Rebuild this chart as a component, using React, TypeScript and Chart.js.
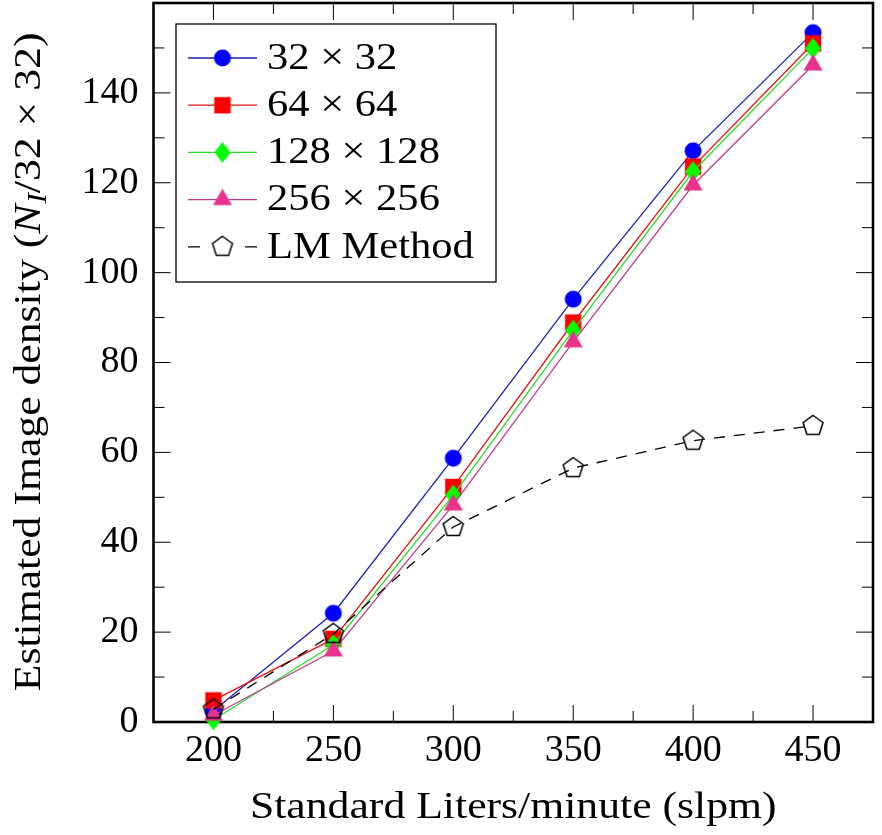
import React, { useEffect, useRef } from 'react';
import { Chart, registerables } from 'chart.js';

Chart.register(...registerables);

// ---------- data ----------
const xValues = [200, 250, 300, 350, 400, 450];
const s32 = [2.5, 24.2, 58.7, 94.1, 127.1, 153.4];
const s64 = [4.8, 18.5, 52.3, 88.9, 123.6, 151.0];
const s128 = [0.5, 17.2, 50.5, 87.2, 122.5, 149.9];
const s256 = [1.5, 15.8, 48.3, 84.6, 119.5, 146.2];
const sLM = [2.8, 19.6, 43.4, 56.5, 62.6, 65.9];
const seriesLabels = ['32 × 32', '64 × 64', '128 × 128', '256 × 256', 'LM Method'];

const xMajorTicks = [200, 250, 300, 350, 400, 450];
const xMinorTicks = [225, 275, 325, 375, 425];
const yMajorTicks = [0, 20, 40, 60, 80, 100, 120, 140];
const yMinorTicks = [10, 30, 50, 70, 90, 110, 130, 150];

const xTitle = 'Standard Liters/minute (slpm)';
const yTitleMain = 'Estimated Image density (';
const yTitleVar = 'N';
const yTitleSub = 'I';
const yTitleEnd = '/32 × 32)';

// ---------- styles ----------
const FONT = 'Liberation Serif';
const STRETCH = 1.15;
const lineColors = ['rgb(30,30,175)', 'rgb(220,20,20)', 'rgb(40,220,40)', 'rgb(195,60,145)', '#000000'];
const markerColors = ['#0000ff', '#ff0000', '#00ff00', 'rgb(232,50,140)', '#000000'];
const markerShapes = ['circle', 'square', 'diamond', 'triangle', 'pentagon'];

function makeMarker(shape: string, color: string): HTMLCanvasElement {
  const size = 30;
  const c = document.createElement('canvas');
  c.width = size;
  c.height = size;
  const ctx = c.getContext('2d')!;
  const cx = size / 2;
  const cy = size / 2;
  ctx.beginPath();
  if (shape === 'circle') {
    ctx.arc(cx, cy, 8.5, 0, Math.PI * 2);
  } else if (shape === 'square') {
    ctx.rect(cx - 8.2, cy - 8.2, 16.4, 16.4);
  } else if (shape === 'diamond') {
    ctx.moveTo(cx, cy - 10.5);
    ctx.lineTo(cx + 8, cy);
    ctx.lineTo(cx, cy + 10.5);
    ctx.lineTo(cx - 8, cy);
    ctx.closePath();
  } else if (shape === 'triangle') {
    const r = 11;
    for (let k = 0; k < 3; k++) {
      const a = -Math.PI / 2 + (k * 2 * Math.PI) / 3;
      const px = cx + r * Math.cos(a);
      const py = cy + r * Math.sin(a);
      if (k === 0) ctx.moveTo(px, py);
      else ctx.lineTo(px, py);
    }
    ctx.closePath();
  } else if (shape === 'pentagon') {
    const r = 10.5;
    for (let k = 0; k < 5; k++) {
      const a = -Math.PI / 2 + (k * 2 * Math.PI) / 5;
      const px = cx + r * Math.cos(a);
      const py = cy + r * Math.sin(a);
      if (k === 0) ctx.moveTo(px, py);
      else ctx.lineTo(px, py);
    }
    ctx.closePath();
  }
  if (shape === 'pentagon') {
    ctx.strokeStyle = color;
    ctx.lineWidth = 1.5;
    ctx.stroke();
  } else {
    ctx.fillStyle = color;
    ctx.fill();
  }
  return c;
}

function stretchedText(ctx: CanvasRenderingContext2D, text: string, x: number, y: number, font: string) {
  ctx.save();
  ctx.font = font;
  ctx.textAlign = 'left';
  ctx.textBaseline = 'alphabetic';
  const w = ctx.measureText(text).width;
  ctx.translate(x, y);
  ctx.scale(STRETCH, 1);
  ctx.fillText(text, -w / 2, 0);
  ctx.restore();
}

const decorPlugin = {
  id: 'decor',
  beforeDatasetsDraw(chart: any) {
    const { ctx, chartArea: a, scales } = chart;
    const xs = scales.x;
    const ys = scales.y;
    ctx.save();
    ctx.strokeStyle = '#000';
    ctx.lineWidth = 1;
    const vt = (v: number, len: number) => {
      const px = xs.getPixelForValue(v);
      ctx.beginPath();
      ctx.moveTo(px, a.bottom);
      ctx.lineTo(px, a.bottom - len);
      ctx.moveTo(px, a.top);
      ctx.lineTo(px, a.top + len);
      ctx.stroke();
    };
    const ht = (v: number, len: number) => {
      const py = ys.getPixelForValue(v);
      ctx.beginPath();
      ctx.moveTo(a.left, py);
      ctx.lineTo(a.left + len, py);
      ctx.moveTo(a.right, py);
      ctx.lineTo(a.right - len, py);
      ctx.stroke();
    };
    xMajorTicks.forEach((v) => vt(v, 17));
    xMinorTicks.forEach((v) => vt(v, 11));
    yMajorTicks.forEach((v) => ht(v, 17));
    yMinorTicks.forEach((v) => ht(v, 11));
    ctx.lineWidth = 2.6;
    ctx.strokeRect(a.left, a.top, a.right - a.left, a.bottom - a.top);
    ctx.restore();
  },
  afterDraw(chart: any) {
    const { ctx, chartArea: a } = chart;
    ctx.save();
    ctx.fillStyle = '#000';

    // x title
    stretchedText(ctx, xTitle, (a.left + a.right) / 2, 818, `38px "${FONT}"`);

    // y title (rotated, mixed styles)
    const fMain = `38px "${FONT}"`;
    const fIt = `italic 38px "${FONT}"`;
    const fSub = `italic 27px "${FONT}"`;
    const pieces = [
      { t: yTitleMain, f: fMain, dy: 0 },
      { t: yTitleVar, f: fIt, dy: 0 },
      { t: yTitleSub, f: fSub, dy: 6 },
      { t: yTitleEnd, f: fMain, dy: 0 },
    ];
    let total = 0;
    const widths = pieces.map((p) => {
      ctx.font = p.f;
      const w = ctx.measureText(p.t).width;
      total += w;
      return w;
    });
    ctx.save();
    ctx.translate(40, (a.top + a.bottom) / 2);
    ctx.rotate(-Math.PI / 2);
    ctx.scale(STRETCH, 1);
    ctx.textAlign = 'left';
    ctx.textBaseline = 'alphabetic';
    let cx = -total / 2;
    pieces.forEach((p, i) => {
      ctx.font = p.f;
      ctx.fillText(p.t, cx, p.dy);
      cx += widths[i] + (i === 1 ? 1 : 0);
    });
    ctx.restore();

    // legend
    const lx = a.left + 22.5;
    const ly = a.top + 21;
    const lw = 320;
    const lh = 258;
    ctx.fillStyle = '#fff';
    ctx.fillRect(lx, ly, lw, lh);
    ctx.strokeStyle = '#000';
    ctx.lineWidth = 1.3;
    ctx.strokeRect(lx, ly, lw, lh);
    chart.data.datasets.forEach((ds: any, i: number) => {
      const ry = ly + 34 + i * 47.2;
      const x1 = lx + 12;
      const x2 = lx + 81;
      const mx = lx + 46.5;
      ctx.save();
      ctx.strokeStyle = ds.borderColor;
      ctx.lineWidth = ds.borderWidth;
      if (ds.borderDash && ds.borderDash.length) {
        ctx.setLineDash([12, 45]);
      }
      ctx.beginPath();
      ctx.moveTo(x1, ry);
      ctx.lineTo(x2, ry);
      ctx.stroke();
      ctx.restore();
      const img = ds.pointStyle as HTMLCanvasElement;
      ctx.drawImage(img, mx - img.width / 2, ry - img.height / 2);
      ctx.fillStyle = '#000';
      ctx.save();
      ctx.font = `37px "${FONT}"`;
      ctx.textBaseline = 'middle';
      ctx.translate(lx + 91, ry + 1);
      ctx.scale(STRETCH, 1);
      ctx.fillText(ds.label, 0, 0);
      ctx.restore();
    });
    ctx.restore();
  },
};

const zeroPadding = (scale: any) => {
  scale.paddingTop = 0;
  scale.paddingBottom = 0;
  scale.paddingLeft = 0;
  scale.paddingRight = 0;
};

export default function App() {
  const ref = useRef<HTMLCanvasElement>(null);

  useEffect(() => {
    const canvas = ref.current;
    if (!canvas) return;
    const series = [s32, s64, s128, s256, sLM];
    const datasets = series.map((vals, i) => ({
      label: seriesLabels[i],
      data: xValues.map((x, j) => ({ x, y: vals[j] })),
      borderColor: lineColors[i],
      backgroundColor: markerColors[i],
      borderWidth: 1.3,
      borderDash: i === 4 ? [11, 9] : [],
      pointStyle: makeMarker(markerShapes[i], markerColors[i]),
      pointRadius: 10,
      pointHoverRadius: 10,
      fill: false,
      tension: 0,
      clip: false as any,
      order: series.length - i,
    }));

    const chart = new Chart(canvas, {
      type: 'line',
      data: { datasets },
      plugins: [decorPlugin],
      options: {
        animation: false,
        responsive: false,
        maintainAspectRatio: false,
        events: [],
        layout: { autoPadding: false, padding: { left: 0, right: 9, top: 3, bottom: 0 } },
        plugins: {
          legend: { display: false },
          tooltip: { enabled: false },
          title: { display: false },
        },
        scales: {
          x: {
            type: 'linear',
            min: 175,
            max: 475,
            grid: { display: false, drawTicks: false },
            border: { display: false },
            afterBuildTicks: (scale: any) => {
              scale.ticks = xMajorTicks.map((v) => ({ value: v }));
            },
            afterFit: (scale: any) => {
              scale.height = 113;
              zeroPadding(scale);
            },
            ticks: {
              autoSkip: false,
              maxRotation: 0,
              padding: 6,
              color: '#000',
              font: { family: FONT, size: 38 },
              callback: (v: any) => String(v),
            },
          },
          y: {
            type: 'linear',
            min: 0,
            max: 160,
            grid: { display: false, drawTicks: false },
            border: { display: false },
            afterBuildTicks: (scale: any) => {
              scale.ticks = yMajorTicks.map((v) => ({ value: v }));
            },
            afterFit: (scale: any) => {
              scale.width = 153.5;
              zeroPadding(scale);
            },
            ticks: {
              autoSkip: false,
              padding: 15,
              color: '#000',
              font: { family: FONT, size: 38 },
              callback: (v: any) => String(v),
            },
          },
        },
      },
    });
    return () => chart.destroy();
  }, []);

  return (
    <div style={{ position: 'absolute', left: 0, top: 0, width: 882, height: 835, background: '#fff' }}>
      <canvas ref={ref} width={882} height={835} style={{ display: 'block', width: 882, height: 835 }} />
    </div>
  );
}
